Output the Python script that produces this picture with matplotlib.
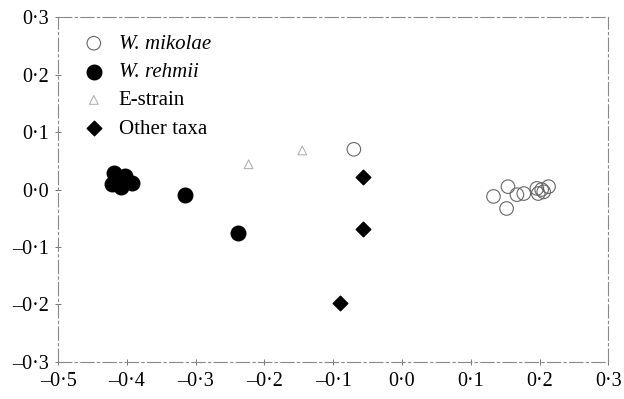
#!/usr/bin/env python3
"""Ordination scatter: W. mikolae, W. rehmii, E-strain and other taxa."""
import matplotlib
matplotlib.use('Agg')
import matplotlib.pyplot as plt
from matplotlib.ticker import FuncFormatter

# W. mikolae (open circles)
mik_x = [0.133, 0.154, 0.152, 0.167, 0.177, 0.196, 0.203, 0.213, 0.206, 0.198, -0.070]
mik_y = [-0.012, 0.005, -0.033, -0.009, -0.007, 0.002, 0.000, 0.005, -0.004, -0.007, 0.070]
# W. rehmii (filled circles)
reh_x = [-0.418, -0.403, -0.422, -0.408, -0.392, -0.410, -0.315, -0.239]
reh_y = [0.028, 0.023, 0.009, 0.005, 0.011, 0.014, -0.009, -0.075]
# E-strain (triangles)
est_x = [-0.223, -0.145]
est_y = [0.044, 0.068]
# Other taxa (diamonds)
oth_x = [-0.056, -0.057, -0.090]
oth_y = [0.021, -0.068, -0.198]

x_ticks = [-0.5, -0.4, -0.3, -0.2, -0.1, 0.0, 0.1, 0.2, 0.3]
y_ticks = [-0.3, -0.2, -0.1, 0.0, 0.1, 0.2, 0.3]

plt.rcParams['font.family'] = ['Liberation Serif', 'DejaVu Serif']


def fmt(v, pos):
    s = f"{abs(v):.1f}".replace('.', '\u00b7')
    return ('\u2013' + s) if v < -1e-9 else s


def main():
    fig = plt.figure(figsize=(6.24, 3.99), dpi=100)
    ax = fig.add_axes([0.093, 0.093, 0.882, 0.864])

    ax.scatter(mik_x, mik_y, s=95, facecolors='none', edgecolors='#666666',
               linewidths=0.8, label='W. mikolae', zorder=3)
    ax.scatter(reh_x, reh_y, s=110, c='black', label='W. rehmii', zorder=3)
    ax.scatter(est_x, est_y, s=40, marker='^', facecolors='none',
               edgecolors='#aaaaaa', linewidths=0.7, label='E-strain', zorder=3)
    ax.scatter(oth_x, oth_y, s=55, marker='D', c='black', label='Other taxa', zorder=3)

    ax.set_xlim(-0.5, 0.3)
    ax.set_ylim(-0.3, 0.3)
    ax.set_xticks(x_ticks)
    ax.set_yticks(y_ticks)
    ax.xaxis.set_major_formatter(FuncFormatter(fmt))
    ax.yaxis.set_major_formatter(FuncFormatter(fmt))
    ax.tick_params(direction='inout', length=5, width=0.7, colors='#777777',
                   labelcolor='black', labelsize=14.5)
    ax.tick_params(axis='x', pad=5)
    ax.tick_params(axis='y', pad=4)
    for sp in ax.spines.values():
        sp.set_color('#888888')
        sp.set_linewidth(0.8)
        sp.set_linestyle((0, (12, 3, 2, 3)))

    leg = ax.legend(loc='upper left', frameon=False, fontsize=15,
                    handletextpad=0.2, labelspacing=0.42, borderaxespad=0.0,
                    bbox_to_anchor=(0.012, 0.975), scatterpoints=1)
    for t in leg.get_texts()[:2]:
        t.set_fontstyle('italic')

    fig.savefig('out.png', dpi=100)


if __name__ == '__main__':
    main()
